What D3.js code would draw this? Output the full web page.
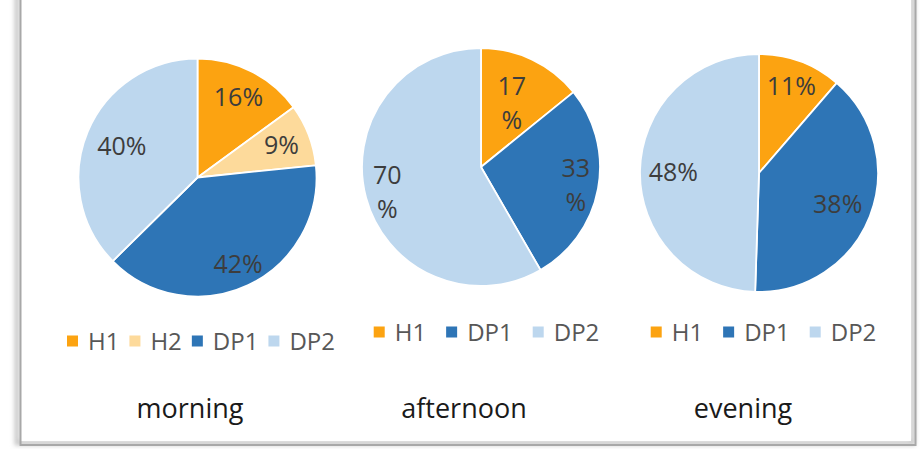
<!DOCTYPE html>
<html>
<head>
<meta charset="utf-8">
<script src="https://cdn.jsdelivr.net/npm/d3@7"></script>
<style>
  html, body { margin: 0; padding: 0; background: #fff; }
  svg { display: block; font-family: "Open Sans", "Liberation Sans", sans-serif; }
</style>
</head>
<body>
<svg id="chart" width="920" height="449"></svg>
<script>
// Share of each source per time of day
const periods = ["morning", "afternoon", "evening"];

const morningSeries = ["H1", "H2", "DP1", "DP2"];
const morningValues = [16, 9, 42, 40];

const afternoonSeries = ["H1", "DP1", "DP2"];
const afternoonValues = [17, 33, 70];

const eveningSeries = ["H1", "DP1", "DP2"];
const eveningValues = [11, 38, 48];

const seriesColors = { H1: "#FCA311", H2: "#FDDA9B", DP1: "#2E75B6", DP2: "#BDD7EE" };

// Layout of each panel: pie centre, label distance (fraction of radius), legend and title placement
const radius = 119;
const panels = [
  { series: morningSeries,   values: morningValues,   cx: 197.5, cy: 177.5,
    labelR: [0.76, 0.755, 0.80, 0.69], wrap: false, legendX: 201,   legendY: 341, legendGap: 10, titleX: 190 },
  { series: afternoonSeries, values: afternoonValues, cx: 481,   cy: 167,
    labelR: [0.60, 0.81, 0.815],       wrap: true,  legendX: 486.5, legendY: 332, legendGap: 20, titleX: 464 },
  { series: eveningSeries,   values: eveningValues,   cx: 759,   cy: 173,
    labelR: [0.78, 0.71, 0.72],        wrap: false, legendX: 763.5, legendY: 332, legendGap: 20, titleX: 743 }
];

const svg = d3.select("#chart");

// Frame with soft shadow
const defs = svg.append("defs");
defs.append("filter").attr("id", "soft").attr("x", "-5%").attr("y", "-5%").attr("width", "110%").attr("height", "110%")
  .append("feGaussianBlur").attr("stdDeviation", 2);

svg.append("rect").attr("x", 17).attr("y", -6).attr("width", 896).attr("height", 449)
  .attr("fill", "none").attr("stroke", "#c8c8c8").attr("stroke-width", 5).attr("filter", "url(#soft)");
svg.append("rect").attr("x", 21).attr("y", -6).attr("width", 890).attr("height", 447)
  .attr("fill", "#fff");
svg.append("rect").attr("x", 20.5).attr("y", -6).attr("width", 895).attr("height", 451)
  .attr("fill", "none").attr("stroke", "#a8a8a8").attr("stroke-width", 2);

const pie = d3.pie().sort(null).value(d => d.value);
const arc = d3.arc().innerRadius(0).outerRadius(radius);

panels.forEach((p, pi) => {
  const data = p.series.map((s, i) => ({ name: s, value: p.values[i] }));
  const arcs = pie(data);
  const g = svg.append("g").attr("transform", `translate(${p.cx},${p.cy})`);

  g.selectAll("path.slice").data(arcs).join("path")
    .attr("class", "slice")
    .attr("d", arc)
    .attr("fill", d => seriesColors[d.data.name])
    .attr("stroke", "#fff")
    .attr("stroke-width", 1.8)
    .attr("stroke-linejoin", "round");

  // Percentage labels placed along each slice's mid angle
  arcs.forEach((a, i) => {
    const lr = radius * p.labelR[i];
    const [lx, ly] = d3.arc().innerRadius(lr).outerRadius(lr).centroid(a);
    const lines = p.wrap ? [String(a.data.value), "%"] : [a.data.value + "%"];
    const lh = 34;
    const t = g.append("text")
      .attr("text-anchor", "middle")
      .attr("font-size", 25)
      .attr("fill", "#3d3d3d");
    lines.forEach((ln, k) => {
      t.append("tspan")
        .attr("x", lx)
        .attr("y", ly + (k - (lines.length - 1) / 2) * lh)
        .attr("dy", "0.36em")
        .text(ln);
    });
  });

  // Legend row, centred under the pie
  const lg = svg.append("g");
  const sq = 11, sqGap = 10;
  const items = p.series.map(s => {
    const it = lg.append("g");
    it.append("rect").attr("width", sq).attr("height", sq).attr("y", -sq / 2)
      .attr("fill", seriesColors[s]);
    const tx = it.append("text").attr("x", sq + sqGap).attr("dy", "0.36em")
      .attr("font-size", 24).attr("fill", "#575757").text(s);
    return { it, w: sq + sqGap + tx.node().getComputedTextLength() };
  });
  const total = d3.sum(items, d => d.w) + p.legendGap * (items.length - 1);
  let x = p.legendX - total / 2;
  items.forEach(d => {
    d.it.attr("transform", `translate(${x},${p.legendY})`);
    x += d.w + p.legendGap;
  });

  // Period title
  svg.append("text")
    .attr("x", p.titleX).attr("y", 418)
    .attr("text-anchor", "middle")
    .attr("font-size", 27)
    .attr("fill", "#1a1a1a")
    .text(periods[pi]);
});
</script>
</body>
</html>
